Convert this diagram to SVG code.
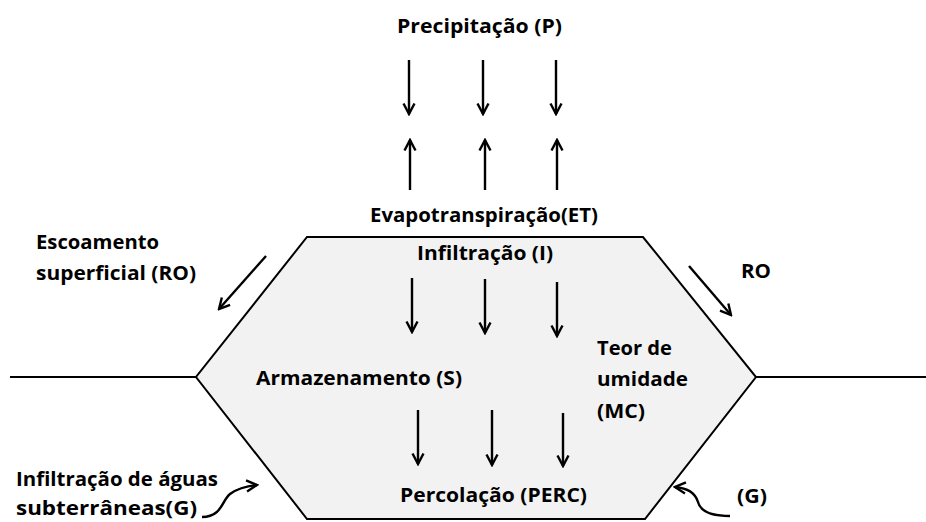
<svg xmlns="http://www.w3.org/2000/svg" width="926" height="522" viewBox="0 0 926 522">
<style>
text{font-family:"Open Sans",Lato,"DejaVu Sans",sans-serif;font-weight:700;font-size:19px;fill:#000}
.ln{stroke:#000;stroke-width:2;fill:none}
.ar{stroke:#000;stroke-width:2.4;fill:none;marker-end:url(#ah)}
</style>
<defs>
<marker id="ah" viewBox="0 0 14 14" refX="12" refY="7" markerWidth="14" markerHeight="14" markerUnits="userSpaceOnUse" orient="auto">
<path d="M1.5,1.5 L12,7 L1.5,12.5" fill="none" stroke="#000" stroke-width="2.4" stroke-linejoin="miter"/>
</marker>
</defs>
<rect width="926" height="522" fill="#fff"/>
<g id="ground">
<line class="ln" x1="10" y1="377" x2="196" y2="377"/>
<line class="ln" x1="756" y1="377" x2="926" y2="377"/>
</g>
<g id="soil">
<polygon points="307,237 643,237 756,377 645,519 307,519 196,377" fill="#f2f2f2" stroke="#000" stroke-width="2"/>
</g>
<g id="connectors">
<line class="ar" x1="409" y1="60" x2="409" y2="114"/>
<line class="ar" x1="483" y1="60" x2="483" y2="114"/>
<line class="ar" x1="556" y1="60" x2="556" y2="114"/>
<line class="ar" x1="410" y1="190" x2="410" y2="140"/>
<line class="ar" x1="485" y1="190" x2="485" y2="140"/>
<line class="ar" x1="557" y1="190" x2="557" y2="140"/>
<line class="ar" x1="412" y1="278" x2="412" y2="332"/>
<line class="ar" x1="485" y1="279" x2="485" y2="333"/>
<line class="ar" x1="557" y1="282" x2="557" y2="336"/>
<line class="ar" x1="418" y1="410" x2="418" y2="464"/>
<line class="ar" x1="492" y1="410" x2="492" y2="465"/>
<line class="ar" x1="563" y1="413" x2="563" y2="466"/>
<line class="ar" x1="266" y1="256" x2="219" y2="309"/>
<line class="ar" x1="689" y1="266" x2="731" y2="315"/>
<path class="ar" d="M202,517 C222,517 222,500 230,494 C238,488 246,486 257,485"/>
<path class="ar" d="M730,516 C708,516 700,510 698,502 C695,492 686,488 675,487"/>
</g>
<g id="labels">
<text x="397" y="33" textLength="165" lengthAdjust="spacingAndGlyphs">Precipitação (P)</text>
<text x="370" y="222" textLength="228" lengthAdjust="spacingAndGlyphs">Evapotranspiração(ET)</text>
<text x="417" y="260" textLength="136" lengthAdjust="spacingAndGlyphs">Infiltração (I)</text>
<text x="36" y="249" textLength="123" lengthAdjust="spacingAndGlyphs">Escoamento</text>
<text x="36" y="280" textLength="160" lengthAdjust="spacingAndGlyphs">superficial (RO)</text>
<text x="741" y="278" textLength="30" lengthAdjust="spacingAndGlyphs">RO</text>
<text x="256" y="385" textLength="206" lengthAdjust="spacingAndGlyphs">Armazenamento (S)</text>
<text x="597" y="355" textLength="75" lengthAdjust="spacingAndGlyphs">Teor de</text>
<text x="597" y="386" textLength="91" lengthAdjust="spacingAndGlyphs">umidade</text>
<text x="597" y="418" textLength="48" lengthAdjust="spacingAndGlyphs">(MC)</text>
<text x="16" y="486" textLength="202" lengthAdjust="spacingAndGlyphs">Infiltração de águas</text>
<text x="16" y="515" textLength="181" lengthAdjust="spacingAndGlyphs">subterrâneas(G)</text>
<text x="400" y="502" textLength="187" lengthAdjust="spacingAndGlyphs">Percolação (PERC)</text>
<text x="737" y="503" textLength="30" lengthAdjust="spacingAndGlyphs">(G)</text>
</g>
</svg>
